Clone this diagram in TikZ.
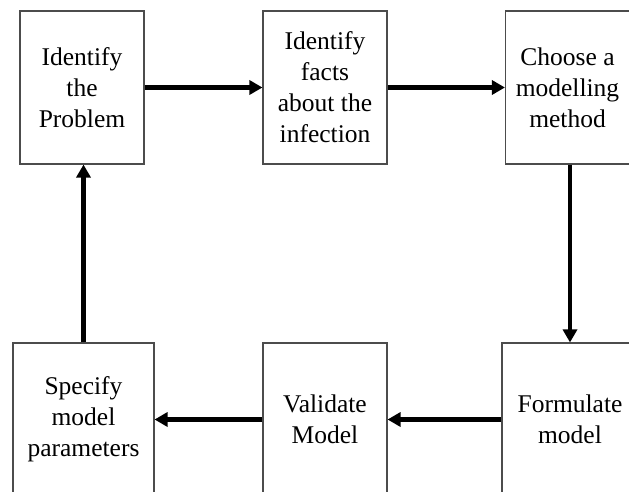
\documentclass[tikz,border=0pt]{standalone}
\usepackage{fontspec}
\setmainfont{Liberation Serif}
\usetikzlibrary{arrows.meta}
\begin{document}
\begin{tikzpicture}[x=1pt,y=-1pt,
  stagebox/.style={draw=black!70,line width=1.1pt,fill=white,inner sep=0pt,
    minimum height=153pt,align=center,
    font=\fontsize{25.5}{31}\selectfont},
  flow/.style={line width=4.2pt,-{Triangle[length=13pt,width=14pt]}}]
\useasboundingbox (0,0) rectangle (629,492);
\clip (0,0) rectangle (629,492);
% top row
\node[stagebox,minimum width=124pt] (prob)  at (82,87.5)    {Identify\\the\\Problem};
\node[stagebox,minimum width=124pt] (facts) at (325,87.5)   {Identify\\facts\\about the\\infection};
\node[stagebox,minimum width=124pt] (meth)  at (567.5,87.5) {Choose a\\modelling\\method};
% bottom row
\node[stagebox,minimum width=141pt] (param) at (83.5,419.5) {Specify\\model\\parameters};
\node[stagebox,minimum width=124pt] (valid) at (325,419.5)  {Validate\\Model};
\node[stagebox,minimum width=136pt] (form)  at (570,419.5)  {Formulate\\model};
% connectors
\draw[flow] (prob.east)  -- (facts.west);
\draw[flow] (facts.east) -- (meth.west);
\draw[flow] (meth.south -| form.north) -- (form.north);
\draw[flow] (form.west)  -- (valid.west -| valid.east);
\draw[flow] (valid.west) -- (param.east);
\draw[flow] (param.north) -- (prob.south -| param.north);
\end{tikzpicture}
\end{document}
